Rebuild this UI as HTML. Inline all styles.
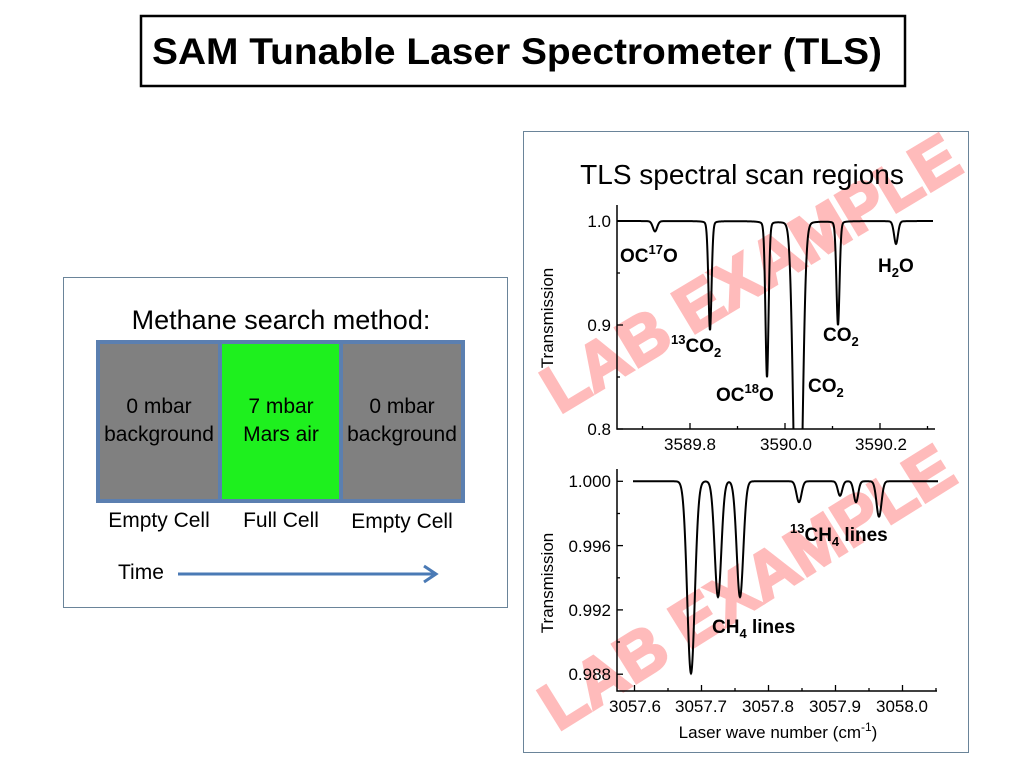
<!DOCTYPE html>
<html><head><meta charset="utf-8"><style>
html,body{margin:0;padding:0;background:#fff;}
svg{display:block;font-family:"Liberation Sans",Arial,sans-serif;}
</style></head><body>
<svg id="s" width="1034" height="776" viewBox="0 0 1034 776" xmlns="http://www.w3.org/2000/svg">
<rect x="0" y="0" width="1034" height="776" fill="#fff"/>
<!-- title -->
<rect x="141" y="16" width="764" height="70" fill="none" stroke="#000" stroke-width="2.5"/>
<text x="517" y="64" text-anchor="middle" font-size="37" font-weight="bold" textLength="730" lengthAdjust="spacingAndGlyphs">SAM Tunable Laser Spectrometer (TLS)</text>

<!-- left panel -->
<rect x="63.5" y="277.5" width="444" height="330" fill="none" stroke="#6a8499" stroke-width="1"/>
<text x="281" y="329" text-anchor="middle" font-size="27">Methane search method:</text>
<rect x="98" y="342" width="122" height="159" fill="#808080"/>
<rect x="220" y="342" width="121" height="159" fill="#1ef01e"/>
<rect x="341" y="342" width="122" height="159" fill="#808080"/>
<rect x="98" y="342" width="365" height="159" fill="none" stroke="#5b7fb0" stroke-width="4"/>
<line x1="220" y1="342" x2="220" y2="501" stroke="#5b7fb0" stroke-width="4"/>
<line x1="341" y1="342" x2="341" y2="501" stroke="#5b7fb0" stroke-width="4"/>
<g font-size="21" text-anchor="middle">
<text x="159" y="413">0 mbar</text><text x="159" y="441">background</text>
<text x="281" y="413">7 mbar</text><text x="281" y="441">Mars air</text>
<text x="402" y="413">0 mbar</text><text x="402" y="441">background</text>
<text x="159" y="527">Empty Cell</text>
<text x="281" y="527">Full Cell</text>
<text x="402" y="528">Empty Cell</text>
</g>
<text x="118" y="579" font-size="21">Time</text>
<line x1="178" y1="574" x2="434" y2="574" stroke="#4a7ab5" stroke-width="3"/>
<polyline points="424,566 436,574 424,582" fill="none" stroke="#4a7ab5" stroke-width="3"/>

<!-- right panel -->
<rect x="523.5" y="131.5" width="445" height="621" fill="none" stroke="#6a8499" stroke-width="1"/>

<!-- watermarks -->
<g opacity="0.5" fill="#ff7a7a" stroke="#ff7a7a" stroke-width="3" font-weight="bold" font-size="66" text-anchor="middle">
<text x="750" y="296" transform="rotate(-31 750 272)">LAB EXAMPLE</text>
<text x="746" y="610" transform="rotate(-32 746 586)">LAB EXAMPLE</text>
</g>

<text x="742" y="184" text-anchor="middle" font-size="28">TLS spectral scan regions</text>

<!-- top axes -->
<defs><clipPath id="c1"><rect x="617" y="200" width="320" height="229"/></clipPath></defs>
<g stroke="#000" stroke-width="1.5" fill="none">
<polyline points="617,205 617,429 935,429"/>
</g>
<g id="t1" stroke="#000" stroke-width="1.3"></g>
<g font-size="17" text-anchor="end">
<text x="611" y="227">1.0</text><text x="611" y="331">0.9</text><text x="611" y="435">0.8</text>
</g>
<g font-size="17" text-anchor="middle">
<text x="690" y="450">3589.8</text><text x="786" y="450">3590.0</text><text x="881" y="450">3590.2</text>
</g>
<text transform="translate(553,318) rotate(-90)" text-anchor="middle" font-size="17">Transmission</text>
<path id="p1" clip-path="url(#c1)" fill="none" stroke="#000" stroke-width="2"/>
<g font-size="19" font-weight="bold">
<text x="620" y="262">OC<tspan font-size="13" dy="-8">17</tspan><tspan dy="8">O</tspan></text>
<text x="671" y="352"><tspan font-size="13" dy="-8">13</tspan><tspan dy="8">CO</tspan><tspan font-size="13" dy="5">2</tspan></text>
<text x="716" y="401">OC<tspan font-size="13" dy="-8">18</tspan><tspan dy="8">O</tspan></text>
<text x="808" y="392">CO<tspan font-size="13" dy="5">2</tspan></text>
<text x="823" y="341">CO<tspan font-size="13" dy="5">2</tspan></text>
<text x="878" y="272">H<tspan font-size="13" dy="5">2</tspan><tspan dy="-5">O</tspan></text>
</g>

<!-- bottom axes -->
<g stroke="#000" stroke-width="1.5" fill="none">
<polyline points="617,469 617,691 937,691"/>
</g>
<g id="t2" stroke="#000" stroke-width="1.3"></g>
<g font-size="17" text-anchor="end">
<text x="611" y="487">1.000</text><text x="611" y="552">0.996</text><text x="611" y="616">0.992</text><text x="611" y="680">0.988</text>
</g>
<g font-size="17" text-anchor="middle">
<text x="635" y="712">3057.6</text><text x="701" y="712">3057.7</text><text x="768" y="712">3057.8</text><text x="835" y="712">3057.9</text><text x="902" y="712">3058.0</text>
</g>
<text transform="translate(553,583) rotate(-90)" text-anchor="middle" font-size="17">Transmission</text>
<text x="778" y="738" text-anchor="middle" font-size="17">Laser wave number (cm<tspan font-size="12" dy="-7">-1</tspan><tspan dy="7">)</tspan></text>
<path id="p2" fill="none" stroke="#000" stroke-width="2"/>
<g font-size="19" font-weight="bold">
<text x="790" y="541"><tspan font-size="13" dy="-8">13</tspan><tspan dy="8">CH</tspan><tspan font-size="13" dy="5">4</tspan><tspan dy="-5"> lines</tspan></text>
<text x="712" y="633">CH<tspan font-size="13" dy="5">4</tspan><tspan dy="-5"> lines</tspan></text>
</g>
</svg>
<script>
(function(){
  var L=[[655,2.2,0.01],[710,1.6,0.105],[767,1.6,0.15],[838,1.6,0.1],[896,2.0,0.022]];
  var d="";
  for(var x=617;x<=933;x+=0.25){
    var T=1;
    for(var i=0;i<L.length;i++){var s=L[i][1],dx=x-L[i][0];
      var p=0.85*Math.exp(-dx*dx/(2*s*s))+0.15*(s*s)/(dx*dx+s*s);
      T-=L[i][2]*p;}
    var dx=x-798; var g=0.46*Math.exp(-dx*dx/(2*3.7*3.7))+0.02*16/(dx*dx+16);
    T*=Math.exp(-g);
    var y=221+(1-T)*1040; if(y>440)y=440;
    d+=(x==617?"M":"L")+x.toFixed(2)+","+y.toFixed(2);
  }
  document.getElementById("p1").setAttribute("d",d);
  var G=[[691,3.8,0.01195],[718,3.3,0.0072],[740,3.3,0.0072],[799,2.5,0.0013],[840,2.2,0.0009],[856,2.2,0.0013],[879,2.5,0.0022]];
  d="";
  for(var x=633;x<=938;x+=0.25){
    var T=1;
    for(var i=0;i<G.length;i++){var s=G[i][1],dx=x-G[i][0];T-=G[i][2]*Math.exp(-dx*dx/(2*s*s));}
    var y=481.3+(1-T)*16075;
    d+=(x==633?"M":"L")+x.toFixed(2)+","+y.toFixed(2);
  }
  document.getElementById("p2").setAttribute("d",d);
  var ns="http://www.w3.org/2000/svg";
  function tick(g,x1,y1,x2,y2){var l=document.createElementNS(ns,"line");l.setAttribute("x1",x1);l.setAttribute("y1",y1);l.setAttribute("x2",x2);l.setAttribute("y2",y2);g.appendChild(l);}
  var t1=document.getElementById("t1");
  [221,325,429].forEach(function(y){tick(t1,617,y,623,y);});
  [273,377].forEach(function(y){tick(t1,617,y,620,y);});
  for(var k=-1;k<6;k++){var x=690+k*47.5;if(x<=617||x>936)continue;tick(t1,x,429,x,k%2==0?423:426);}
  var t2=document.getElementById("t2");
  [481.3,545.6,609.9,674.2].forEach(function(y){tick(t2,617,y,623,y);});
  [513.5,577.8,642].forEach(function(y){tick(t2,617,y,620,y);});
  for(var k=0;k<10;k++){var x=634.5+k*33.5;if(x>937)continue;tick(t2,x,691,x,k%2==0?685:688);}
})();
</script>
</body></html>
